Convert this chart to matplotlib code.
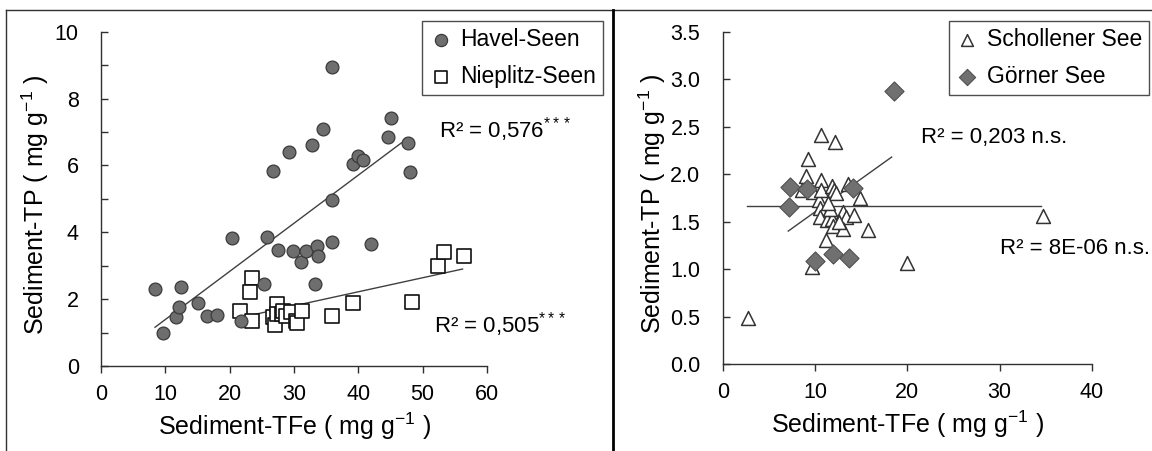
import matplotlib
matplotlib.use("Agg")
import matplotlib.pyplot as plt
from matplotlib.lines import Line2D
import numpy as np

plt.rcParams['font.family'] = ['Liberation Sans', 'DejaVu Sans']
plt.rcParams['mathtext.fontset'] = 'custom'
plt.rcParams['mathtext.rm'] = 'Liberation Sans'
plt.rcParams['mathtext.it'] = 'Liberation Sans:italic'
plt.rcParams['mathtext.bf'] = 'Liberation Sans:bold'

# ---------------- data: left panel ----------------
havel_x = [8.4, 9.6, 11.6, 12.2, 12.5, 15.0, 16.5, 18.0, 20.3, 21.8, 25.3, 25.8,
           26.7, 27.5, 29.3, 29.9, 31.1, 31.8, 32.8, 33.2, 33.5, 33.7, 34.5, 35.9,
           35.9, 35.9, 39.1, 40.0, 40.7, 41.9, 44.6, 45.1, 47.7, 48.1]
havel_y = [2.29, 1.00, 1.46, 1.77, 2.35, 1.89, 1.50, 1.53, 3.83, 1.35, 2.45, 3.86,
           5.84, 3.48, 6.40, 3.45, 3.12, 3.45, 6.61, 2.45, 3.59, 3.29, 7.10, 8.95,
           4.96, 3.71, 6.04, 6.29, 6.16, 3.64, 6.85, 7.41, 6.67, 5.79]

niep_x = [21.6, 23.5, 23.2, 23.5, 26.7, 27.0, 27.4, 27.3, 28.1, 28.3, 28.8,
          29.6, 30.3, 30.4, 31.3, 35.9, 39.1, 48.4, 52.4, 53.3, 56.4]
niep_y = [1.65, 2.64, 2.22, 1.36, 1.48, 1.23, 1.85, 1.56, 1.56, 1.65, 1.50,
          1.63, 1.36, 1.28, 1.65, 1.50, 1.87, 1.92, 2.99, 3.41, 3.28]

# trend lines: slope, intercept, x-range
havel_fit = (0.144, -0.05, 8.4, 46.7)
niep_fit = (0.042, 0.54, 21.1, 56.2)

# ---------------- data: right panel ----------------
schol_x = [2.7, 9.7, 9.2, 9.0, 8.6, 10.7, 12.2, 10.7, 9.8, 10.4, 10.7, 11.8,
           12.1, 12.3, 13.6, 14.9, 10.5, 10.5, 11.3, 11.8, 11.6, 12.0, 13.0,
           13.4, 14.2, 13.0, 15.7, 11.2, 20.0, 34.7, 11.4, 12.6]
schol_y = [0.48, 1.02, 2.16, 1.98, 1.83, 2.41, 2.34, 1.94, 1.81, 1.73, 1.83, 1.87,
           1.83, 1.80, 1.90, 1.75, 1.64, 1.55, 1.52, 1.53, 1.63, 1.45, 1.60,
           1.55, 1.57, 1.42, 1.41, 1.31, 1.06, 1.56, 1.70, 1.50]

gorner_x = [7.3, 7.2, 9.1, 10.0, 12.0, 13.7, 14.1, 18.5]
gorner_y = [1.86, 1.65, 1.84, 1.09, 1.16, 1.12, 1.85, 2.88]

schol_fit = (0.0, 1.667, 2.6, 34.5)
gorner_fit = (0.0696, 0.906, 7.1, 18.3)

left_xticks = [0, 10, 20, 30, 40, 50, 60]
left_yticks = [0, 1, 2, 3, 4, 5, 6, 7, 8, 9, 10]
right_xticks = [0, 10, 20, 30, 40]
right_yticks = [0.0, 0.5, 1.0, 1.5, 2.0, 2.5, 3.0, 3.5]

W, H = 1152, 451
fig = plt.figure(figsize=(W / 100, H / 100), dpi=100)

def px_axes(x0, x1, ytop, ybot):
    return fig.add_axes([x0 / W, 1 - ybot / H, (x1 - x0) / W, (ybot - ytop) / H])

ax1 = px_axes(101, 487, 31.7, 366)
ax2 = px_axes(722.7, 1092, 31.7, 364)

TICK_FS = 15.5
LAB_FS = 18
LEG_FS = 16.5
ANN_FS = 16
LINEC = '#404040'

for ax in (ax1, ax2):
    for s in ('top', 'right'):
        ax.spines[s].set_visible(False)
    for s in ('left', 'bottom'):
        ax.spines[s].set_color('#303030')
        ax.spines[s].set_linewidth(1.0)
    ax.tick_params(axis='y', direction='in', length=5, width=1, color='#303030',
                   labelsize=TICK_FS, pad=16)
    ax.tick_params(axis='x', direction='out', length=5, width=1, color='#303030',
                   labelsize=TICK_FS, pad=8)

def fit_line(ax, fit, **kw):
    m, b, xa, xb = fit
    xs = np.array([xa, xb])
    ax.plot(xs, m * xs + b, color=LINEC, lw=1.0, zorder=1, **kw)

# left panel
fit_line(ax1, havel_fit)
fit_line(ax1, niep_fit)
ax1.scatter(havel_x, havel_y, s=85, marker='o', facecolor='#6e6e6e',
            edgecolor='#3a3a3a', linewidth=0.9, zorder=3, label='Havel-Seen')
ax1.scatter(niep_x, niep_y, s=90, marker='s', facecolor='white',
            edgecolor='#111111', linewidth=1.2, zorder=2, label='Nieplitz-Seen')
ax1.set_xlim(0, 60)
ax1.set_ylim(0, 10)
ax1.set_xticks(left_xticks)
ax1.set_yticks(left_yticks)
ax1.set_yticklabels([str(v) if v % 2 == 0 else '' for v in left_yticks])
ax1.set_xlabel('Sediment-TFe ( mg g$^{-1}$ )', fontsize=LAB_FS, labelpad=4)
ax1.set_ylabel('Sediment-TP ( mg g$^{-1}$ )', fontsize=LAB_FS)
ax1.yaxis.set_label_coords(-0.13, 0.482)

leg1 = ax1.legend(loc='upper right', bbox_to_anchor=(603 / W, 1 - 21 / H),
                  bbox_transform=fig.transFigure, borderaxespad=0, fontsize=LEG_FS,
                  frameon=True, fancybox=False, edgecolor='#202020',
                  handletextpad=0.35, handlelength=1.0, borderpad=0.3,
                  labelspacing=0.6, markerscale=0.95)
leg1.get_frame().set_linewidth(1.0)

ax1.text(439 / W, 1 - 130 / H, 'R² = 0,576$^{***}$', transform=fig.transFigure,
         fontsize=ANN_FS, va='center', ha='left')
ax1.text(434 / W, 1 - 325 / H, 'R² = 0,505$^{***}$', transform=fig.transFigure,
         fontsize=ANN_FS, va='center', ha='left')

# right panel
fit_line(ax2, schol_fit)
fit_line(ax2, gorner_fit)
ax2.scatter(schol_x, schol_y, s=100, marker='^', facecolor='white',
            edgecolor='#333333', linewidth=1.1, zorder=2, label='Schollener See')
ax2.scatter(gorner_x, gorner_y, s=95, marker='D', facecolor='#707070',
            edgecolor='#505050', linewidth=0.8, zorder=3, label='Görner See')
ax2.set_xlim(0, 40)
ax2.set_ylim(0, 3.5)
ax2.set_xticks(right_xticks)
ax2.set_yticks(right_yticks)
ax2.set_yticklabels([f'{v:.1f}' for v in right_yticks])
ax2.set_xlabel('Sediment-TFe ( mg g$^{-1}$ )', fontsize=LAB_FS, labelpad=4)
ax2.set_ylabel('Sediment-TP ( mg g$^{-1}$ )', fontsize=LAB_FS)
ax2.yaxis.set_label_coords(-0.148, 0.482)

leg2 = ax2.legend(loc='upper right', bbox_to_anchor=(1149 / W, 1 - 21 / H),
                  bbox_transform=fig.transFigure, borderaxespad=0, fontsize=LEG_FS,
                  frameon=True, fancybox=False, edgecolor='#202020',
                  handletextpad=0.35, handlelength=1.0, borderpad=0.3,
                  labelspacing=0.6, markerscale=0.85)
leg2.get_frame().set_linewidth(1.0)

ax2.text(921 / W, 1 - 137 / H, 'R² = 0,203 n.s.', transform=fig.transFigure,
         fontsize=ANN_FS, va='center', ha='left')
ax2.text(1000 / W, 1 - 248 / H, 'R² = 8E-06 n.s.', transform=fig.transFigure,
         fontsize=ANN_FS, va='center', ha='left')

# frame lines
fig.add_artist(Line2D([6 / W, 1], [1 - 10 / H, 1 - 10 / H], transform=fig.transFigure,
                      color='#303030', lw=1.0))
fig.add_artist(Line2D([6 / W, 6 / W], [0, 1 - 10 / H], transform=fig.transFigure,
                      color='#303030', lw=1.0))
fig.add_artist(Line2D([613 / W, 613 / W], [0, 1 - 10 / H], transform=fig.transFigure,
                      color='black', lw=2.0))

fig.savefig('out.png', dpi=100)
